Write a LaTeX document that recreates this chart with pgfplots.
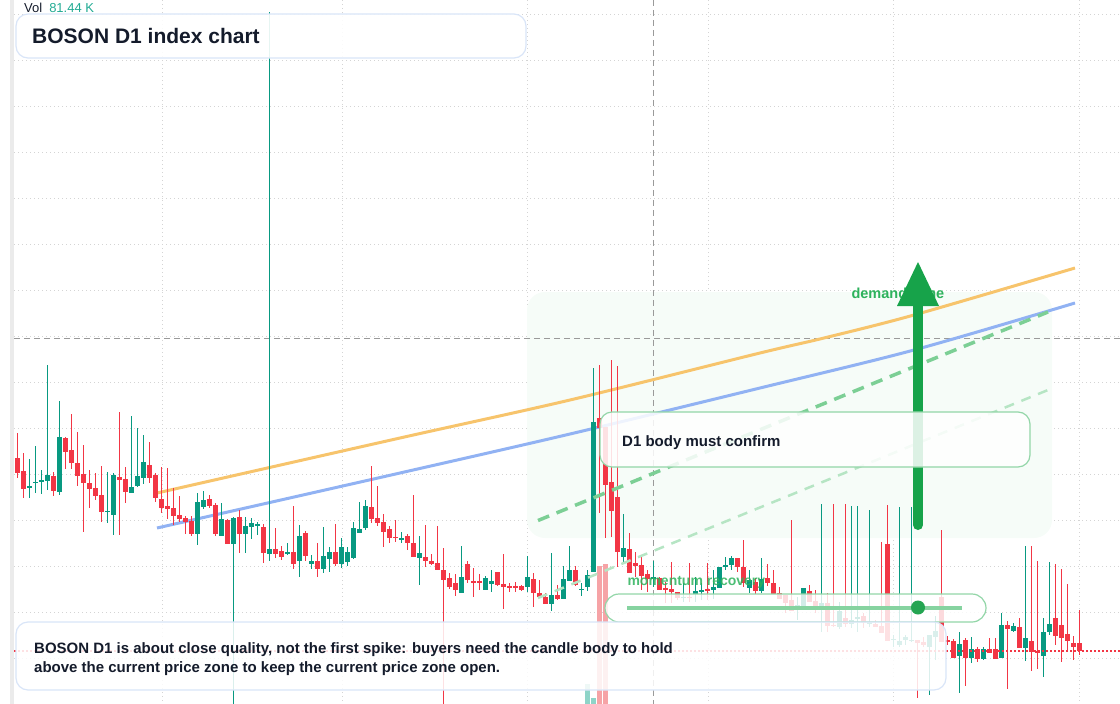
\documentclass[border=0pt]{standalone}
\usepackage{pgfplots}
\pgfplotsset{compat=1.18}
\usepackage{pgfplotstable}
\usepackage{fontspec}
\setmainfont{Liberation Sans}

\definecolor{cup}{HTML}{089981}
\definecolor{cdown}{HTML}{F23645}
\definecolor{gridc}{HTML}{D4D4D4}
\definecolor{crossc}{HTML}{9A9A9A}
\definecolor{orangec}{HTML}{F7C46C}
\definecolor{bluec}{HTML}{91B2F3}
\definecolor{dgreen}{HTML}{7CCF95}
\definecolor{lgreen}{HTML}{B6E5C4}
\definecolor{zonec}{HTML}{F6FCF8}
\definecolor{zgreen}{HTML}{2DB25C}
\definecolor{arrowc}{HTML}{17A34A}
\definecolor{boxgreen}{HTML}{93D6A8}
\definecolor{boxblue}{HTML}{D9E5F8}
\definecolor{txt}{HTML}{141B2B}
\definecolor{volc}{HTML}{22AB94}
\definecolor{volg}{HTML}{8ED4C8}
\definecolor{volr}{HTML}{F6A3A6}
\definecolor{leftbar}{HTML}{EBEBEB}
\definecolor{mline}{HTML}{86D3A0}
\definecolor{dotc}{HTML}{24A552}

\pgfplotstableread{
i o h l c
0 457.7 432.7 478.3 472.7
1 471 453 497.7 488.7
2 487.3 459 497.7 486
3 482.7 446 493.3 482
4 481.3 470 493.7 480
5 481.3 365 490 475
6 476 471.7 496 490.7
7 491.7 401 495.3 437.3
8 438 437.3 468.7 451.7
9 450 414 469 463.3
10 463.3 432 485.7 475.7
11 474.3 445 531.7 483.3
12 483 470 507.7 488.7
13 488 473 500 495.7
14 495 465.7 521.7 511.7
15 511.7 472 522.7 510.7
16 514.7 473 534.7 475
17 477 411.7 534.7 480.3
18 479.3 467 502.7 491.7
19 492.7 416 492.7 487
20 485.7 428 487 476
21 477.7 435 483.7 462
22 465.3 442 482.7 477.7
23 475 473 501.7 497.7
24 499 466.7 512.7 507.7
25 506 467.7 519 508.7
26 508 487.7 525 515.7
27 515 495.7 522 518.7
28 517.7 515.7 533.7 521.7
29 521 516 536.3 533.7
30 533.7 492.7 544.7 502
31 506.7 490.7 508.7 500
32 499 495 508 506
33 505 503.3 535.7 533.7
34 535.7 503 536.3 519
35 520 519.3 544.3 543.7
36 543.7 516.7 720 518
37 516.7 510 553 533.7
38 533.7 516.7 553 526
39 526.7 518.3 539 523
40 525.3 522.3 534.7 524
41 527 524 562.7 553.3
42 554.3 12 560.7 549
43 549 527.7 558 553.7
44 551 545.7 560 556.7
45 554.3 542.7 555 552
46 552 505.7 568.7 563.7
47 561 524.7 576.7 536
48 533 531.3 561 555.7
49 563.7 554.7 569.3 560.7
50 560.7 542.7 576.7 568.7
51 569 526.7 573.3 556
52 559 546.7 571.7 552
53 551.7 523.7 566.3 563.7
54 563.7 537.7 568 546.7
55 562.3 546.7 565.7 552
56 557.7 522 559 528
57 533 502 533 529
58 527.7 500 530.3 505.7
59 507 465.7 523 519
60 518 485.7 526 522.7
61 522 513.7 546.7 531.7
62 529 526 542.7 537.7
63 537 520 542 537.7
64 538.7 531.7 542.7 538.3
65 536 534 549.7 542.7
66 542.7 495 557 557
67 558 535.7 584.7 553
68 557 524.7 567 560.7
69 561 554 564.7 563.7
70 563 525.7 569.7 569.7
71 569.7 548 715 579.7
72 578 573 588.7 587
73 583 573.7 595.7 590
74 592.7 546 592.7 577
75 564 560.7 582.7 579.7
76 581.7 567.7 596.7 582.3
77 581.7 574 590 582.3
78 589.7 575.7 589.7 578
79 583.7 570 591.7 580.7
80 572 572 586 585
81 584 554 608.7 586.7
82 586.7 583.3 592.3 587.3
83 586.7 582 592.3 587.3
84 586 585.3 591 590
85 586.7 556 591.7 577
86 579 573 606.7 592.7
87 592.7 580 598.3 596.7
88 596.7 593 603.7 603.7
89 603.7 553 610.7 595
90 595 585 599.7 598.7
91 598.7 566 598.7 579
92 580.7 546 580.7 570
93 570 566 586 585.3
94 589.7 583.3 595.7 589
95 586.7 570 590.7 575.3
96 571.7 368.3 571.7 422
97 418.3 365 513.3 428
98 426.7 426.7 538.3 485
99 482 360 536.7 510.7
100 497 366 566.7 551.7
101 556.7 514.3 563.3 548.3
102 549.3 533.3 573.3 573.3
103 563.3 551.7 576.7 566
104 565 556.7 590 576
105 574 570 591.7 578.7
106 578.7 561 586.7 576.7
107 578.3 576.7 590 590
108 588.7 581.7 603.3 589.3
109 588.7 562 603.3 592.3
110 592.3 591.7 600 598.3
111 598 583.3 602.3 597
112 597 562.7 601.7 598
113 593.7 576.7 601.7 591.3
114 591.3 583.3 600 589.7
115 589.7 563.3 600 590.3
116 590 570 599.3 586.7
117 587.7 566.7 588.3 567.3
118 567.3 556.7 570 565
119 565 556 570 558.3
120 558.3 558.3 571.7 566.7
121 567 540 587.3 583.3
122 588.3 570 593.3 580
123 581.7 578.3 594 590.7
124 590.7 558.3 593.3 579
125 578 564 586 582.7
126 583 570 593.7 593.7
127 593.3 587 598.7 598.7
128 595.3 595.3 612.7 603.3
129 600 520 610.7 610.7
130 608 596.7 620 605
131 607.3 588 608 588
132 591 585.3 601.7 601.7
133 600.7 590 613.3 609.3
134 608.3 504 631.7 603
135 603 593.3 632.3 625.7
136 624.7 504 626.7 625.7
137 626.7 602.3 629 611
138 618 504 626.7 624
139 624 506 628.3 620
140 618.3 506 631.7 616.7
141 616 613.3 628.3 622.7
142 623.3 510 626.7 622.7
143 624 620 626.7 626.7
144 625.7 542 633.3 632.7
145 544 505 641 641
146 639.7 635 646.7 639
147 644.7 507.3 646.7 641.3
148 640.3 635.3 645.3 636.7
149 640.7 507.3 641.7 640
150 640.3 640.3 698.3 642.7
151 642 636.7 646.7 644.7
152 646.7 634.7 695 634.7
153 636.7 616 660 631
154 597 530 641.7 641.7
155 640 636 645 641.7
156 640.7 639.3 657.7 657.7
157 655.7 632 693.3 644
158 640 638.3 685.7 657.7
159 658.3 636.7 662.7 649
160 649 646.7 661.7 658.7
161 659.3 646.7 660 649
162 649 637.7 653.3 653.3
163 649 637.7 659.3 659.3
164 658.3 613 658.3 625
165 625 621 688.7 628.7
166 630.7 623.3 631.7 626
167 626.7 617.7 647.7 647.7
168 647.7 546 660.7 638
169 641 546 670.7 651.7
170 651 561 669.3 652.7
171 655.7 618 676.7 632
172 632.3 562 635 624
173 618 564 645 635.7
174 625 569 661.7 637.7
175 634 584 650 640.7
176 643 636 660 646.7
177 643 610 655 650.7
}\candles

\begin{document}
\begin{tikzpicture}
\begin{axis}[
  scale only axis, width=1120pt, height=704pt,
  xmin=0, xmax=1120, ymin=0, ymax=704, y dir=reverse,
  hide axis, unbounded coords=discard,
]
\coordinate (TL) at (axis cs:0,0);
\coordinate (BR) at (axis cs:1120,704);
% left bar
\fill[leftbar] (axis cs:10,0) rectangle (axis cs:14,704);
% grid
\pgfplotsinvokeforeach{14.3,60.3,106.3,152.3,198.3,244.3,290.3,336.3,382.3,428.3,474.3,520.3,566.3,612.3,658.3}{
  \draw[gridc, line width=1pt, dash pattern=on 1.2pt off 2.8pt] (axis cs:14,#1) -- (axis cs:1120,#1);
}
\pgfplotsinvokeforeach{162,342,527,708,893,1079}{
  \draw[gridc, line width=1pt, dash pattern=on 1.2pt off 2.8pt] (axis cs:#1,0) -- (axis cs:#1,704);
}
% zone
\fill[zonec, rounded corners=18pt] (axis cs:527,292) rectangle (axis cs:1052,538);
% crosshair
\draw[crossc, line width=1pt, dash pattern=on 6pt off 4pt] (axis cs:14,338) -- (axis cs:1120,338);
\draw[crossc, line width=1pt, dash pattern=on 6pt off 4pt] (axis cs:653,0) -- (axis cs:653,704);
% volume bars
\addplot[draw=none, mark=none, error bars/.cd, y dir=plus, y explicit, error mark=none,
  error bar style={line width=5pt, draw=volg}] coordinates {(587.3,684) +- (0,30) (593.3,698) +- (0,30)};
\addplot[draw=none, mark=none, error bars/.cd, y dir=plus, y explicit, error mark=none,
  error bar style={line width=5pt, draw=volr}] coordinates {(599.3,566) +- (0,150) (605.3,564) +- (0,150)};
% trend curves
\addplot[orangec, line width=3pt, smooth, mark=none] coordinates {(157,493) (400,438) (570,400) (760,353) (824,338) (914,315) (1075,268)};
\addplot[bluec, line width=3pt, smooth, mark=none] coordinates {(157,528) (400,473) (570,434) (760,388) (914,350) (1075,303)};
% wicks
\addplot[draw=none, mark=none, restrict expr to domain={\thisrow{o}-\thisrow{c}}{0:1000},
  error bars/.cd, y dir=both, y explicit, error mark=none, error bar style={line width=1pt, draw=cup}]
  table[x expr=17.3+6*\thisrow{i}, y expr=(\thisrow{h}+\thisrow{l})/2, y error expr=(\thisrow{l}-\thisrow{h})/2] {\candles};
\addplot[draw=none, mark=none, restrict expr to domain={\thisrow{o}-\thisrow{c}}{-1000:0},
  error bars/.cd, y dir=both, y explicit, error mark=none, error bar style={line width=1pt, draw=cdown}]
  table[x expr=17.3+6*\thisrow{i}, y expr=(\thisrow{h}+\thisrow{l})/2, y error expr=(\thisrow{l}-\thisrow{h})/2] {\candles};
% bodies
\addplot[draw=none, mark=none, restrict expr to domain={\thisrow{o}-\thisrow{c}}{0:1000},
  error bars/.cd, y dir=both, y explicit, error mark=none, error bar style={line width=4.4pt, draw=cup}]
  table[x expr=17.3+6*\thisrow{i}, y expr=(\thisrow{o}+\thisrow{c})/2, y error expr={max(abs(\thisrow{o}-\thisrow{c})/2,0.7)}] {\candles};
\addplot[draw=none, mark=none, restrict expr to domain={\thisrow{o}-\thisrow{c}}{-1000:0},
  error bars/.cd, y dir=both, y explicit, error mark=none, error bar style={line width=4.4pt, draw=cdown}]
  table[x expr=17.3+6*\thisrow{i}, y expr=(\thisrow{o}+\thisrow{c})/2, y error expr={max(abs(\thisrow{o}-\thisrow{c})/2,0.7)}] {\candles};
% dashed channel
\addplot[dgreen, line width=3.5pt, dash pattern=on 12pt off 8pt, mark=none] coordinates {(538,520.5) (1048,312)};
\addplot[lgreen, line width=2.5pt, dash pattern=on 10pt off 8pt, mark=none] coordinates {(538,598) (1048,390)};
% momentum text
\node[anchor=west, text=zgreen, text opacity=0.85, font=\fontsize{14}{16}\selectfont\bfseries] at (axis cs:624,582) {momentum recovery};
% last price line
\draw[cdown, line width=1.2pt, dash pattern=on 2pt off 2pt] (axis cs:14,651) -- (axis cs:1120,651);
% demand zone label and arrow
\node[anchor=west, text=zgreen, font=\fontsize{14.5}{16}\selectfont\bfseries] at (axis cs:848,293) {demand zone};
\draw[arrowc, line width=10pt, line cap=round] (axis cs:918,525) -- (axis cs:918,300);
\fill[arrowc] (axis cs:897,306) -- (axis cs:939,306) -- (axis cs:918,262) -- cycle;
% boxes
\draw[boxgreen, line width=1.2pt, fill=white, fill opacity=0.85, rounded corners=12pt] (axis cs:600,412) rectangle (axis cs:1030,467);
\draw[boxgreen, line width=1.2pt, fill=white, fill opacity=0.82, rounded corners=14pt] (axis cs:605,594) rectangle (axis cs:986,622);
\draw[boxblue, line width=1.2pt, fill=white, fill opacity=0.85, rounded corners=12pt] (axis cs:16,622) rectangle (axis cs:946,690);
\draw[boxblue, line width=1.2pt, fill=white, fill opacity=0.9, rounded corners=12pt] (axis cs:16,14) rectangle (axis cs:526,58);
% momentum gauge
\draw[mline, line width=4pt] (axis cs:627,607.5) -- (axis cs:962,607.5);
\fill[dotc] (axis cs:918,607.5) circle[radius=7pt];
% texts
\node[anchor=west, text=txt, font=\fontsize{21}{24}\selectfont\bfseries, inner sep=0pt] at (axis cs:32,36) {BOSON D1 index chart};
\node[anchor=west, text=txt, font=\fontsize{15}{18}\selectfont\bfseries, inner sep=0pt] at (axis cs:622,443) {D1 body must confirm};
\node[anchor=west, text=txt, font=\fontsize{15}{20}\selectfont\bfseries, inner sep=0pt] at (axis cs:34,649.5) {BOSON D1 is about close quality, not the first spike: buyers need the candle body to hold};
\node[anchor=west, text=txt, font=\fontsize{15}{20}\selectfont\bfseries, inner sep=0pt] at (axis cs:34,669) {above the current price zone to keep the current price zone open.};
\node[anchor=west, font=\fontsize{13}{15}\selectfont, inner sep=0pt] at (axis cs:24,8) {\textcolor{txt}{Vol}\hspace{7pt}\textcolor{volc}{81.44 K}};
\end{axis}
\pgfresetboundingbox
\path[use as bounding box] (TL) rectangle (BR);
\end{tikzpicture}
\end{document}
